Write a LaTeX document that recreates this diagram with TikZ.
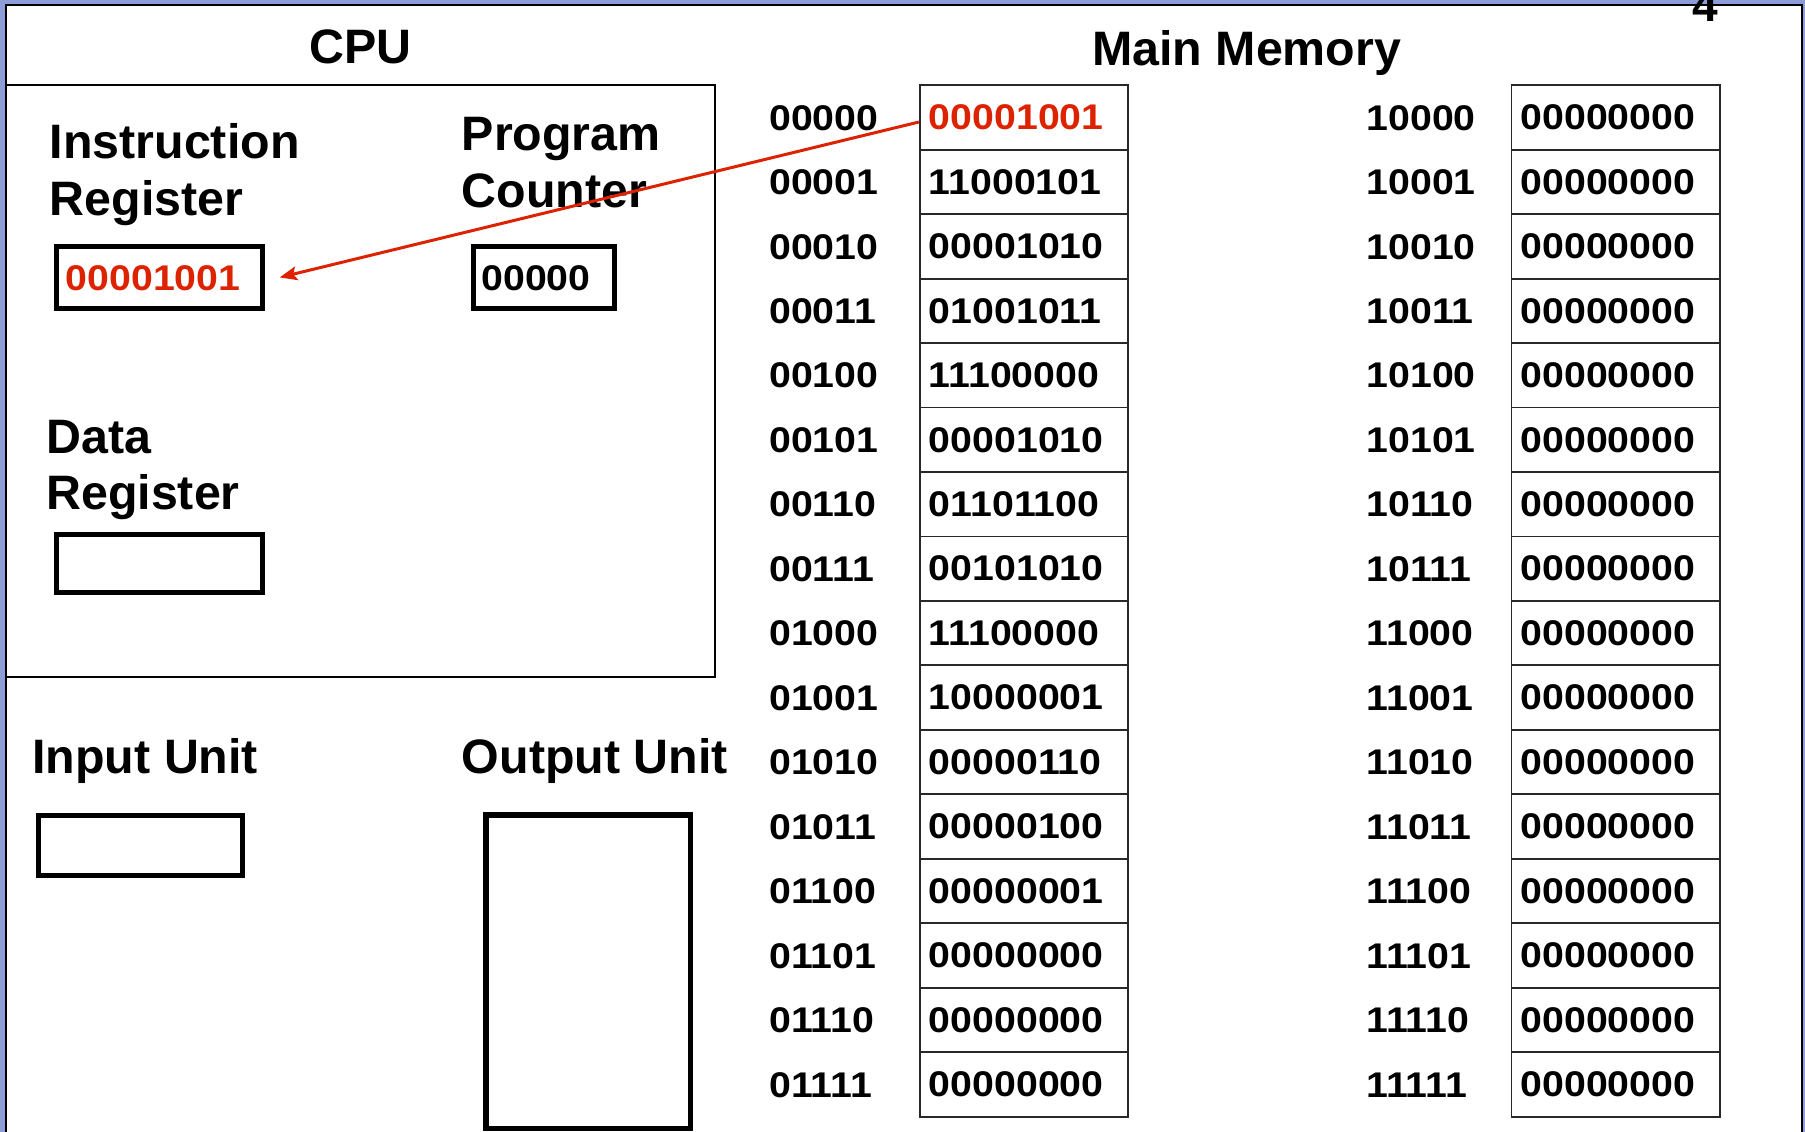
\documentclass[tikz,border=0pt]{standalone}
\usepackage{fontspec}
\setmainfont{Liberation Sans}
\newfontfamily\digitfam{Liberation Sans}[FakeStretch=1.1]
\usetikzlibrary{arrows.meta,calc}
\definecolor{bgblue}{RGB}{142,156,216}
\definecolor{memred}{RGB}{221,34,0}
\definecolor{cellgray}{RGB}{40,40,40}
\newcommand{\lblfont}{\bfseries\fontsize{42}{49}\selectfont}
\newcommand{\digfont}{\digitfam\bfseries\fontsize{31}{36}\selectfont}
\begin{document}
\begin{tikzpicture}[x=1pt,y=-1pt,
  lbl/.style={anchor=base west, inner sep=0pt, font=\lblfont, align=left},
  dig/.style={anchor=base west, inner sep=0pt, font=\digfont},
  regbox/.style={draw=black, line width=4.5pt, inner sep=0pt},
  cell/.style={draw=cellgray, line width=1.6pt, minimum width=181pt, minimum height=56pt,
    inner xsep=8pt, inner ysep=0pt, text width=165pt, align=left, font=\digfont},
  thinline/.style={draw=black, line width=1.8pt},
  redarrow/.style={draw=memred, line width=2.6pt, -{Stealth[length=15pt,width=12pt,inset=3pt]}}]
\useasboundingbox (0,0) rectangle (1568,983);
\fill[bgblue] (0,0) rectangle (1568,983);
\path[fill=white, thinline] (5.5,4.5) rectangle (1565,1000);
\node[font=\bfseries\fontsize{40}{40}\selectfont, anchor=base, inner sep=0pt] (pagenum) at (1481,19) {4};
% CPU area
\draw[thinline] (5.5,74) -- (621,74) -- (621,588) -- (5.5,588);
\node[lbl, anchor=base] (cputitle) at (313,55) {CPU};
\node[lbl, anchor=base] (memtitle) at (1083,57) {Main Memory};
\node[lbl] (irlbl) at (43,138) {Instruction};
\node[lbl] (irlbl2) at (43,187) {Register};
\node[lbl] (pclbl) at (401,131) {Program};
\node[lbl] (pclbl2) at (401,180) {Counter};
\node[lbl] (drlbl) at (40,394) {Data};
\node[lbl] (drlbl2) at (40,443) {Register};
\node[lbl] (inlbl) at (28,672) {Input Unit};
\node[lbl] (outlbl) at (401,672) {Output Unit};
% registers
\node[regbox, minimum width=178.5pt, minimum height=53.5pt] (ir) at (138.5,241) {};
\node[dig, text=memred] (irval) at (57,252) {00001001};
\node[regbox, minimum width=122.5pt, minimum height=53.5pt] (pc) at (472.5,241) {};
\node[dig] (pcval) at (418,252) {00000};
\node[regbox, minimum width=178.5pt, minimum height=50.5pt] (dr) at (138.5,489.5) {};
\node[regbox, minimum width=177.5pt, minimum height=52.5pt] (inunit) at (122,734.5) {};
\node[regbox, minimum width=177.5pt, minimum height=272pt] (outunit) at (511,844) {};
% memory column 1
\foreach \i/\a/\v in {0/00000/00001001,1/00001/11000101,2/00010/00001010,3/00011/01001011,
  4/00100/11100000,5/00101/00001010,6/00110/01101100,7/00111/00101010,
  8/01000/11100000,9/01001/10000001,10/01010/00000110,11/01011/00000100,
  12/01100/00000001,13/01101/00000000,14/01110/00000000,15/01111/00000000}{
  \node[dig] (a\i) at (668,{113+56*\i}) {\a};
  \ifnum\i=0
    \node[cell, text=memred] (m\i) at (889.5,{102+56*\i}) {\v};
  \else
    \node[cell] (m\i) at (889.5,{102+56*\i}) {\v};
  \fi
}
% memory column 2
\foreach \i/\a in {0/10000,1/10001,2/10010,3/10011,4/10100,5/10101,6/10110,7/10111,
  8/11000,9/11001,10/11010,11/11011,12/11100,13/11101,14/11110,15/11111}{
  \node[dig] (b\i) at (1187,{113+56*\i}) {\a};
  \node[cell] (n\i) at (1403.5,{102+56*\i}) {00000000};
}
% fetch arrow
\draw[redarrow] ([yshift=-4pt]m0.west) -- ([xshift=13pt]ir.east);
\end{tikzpicture}
\end{document}
